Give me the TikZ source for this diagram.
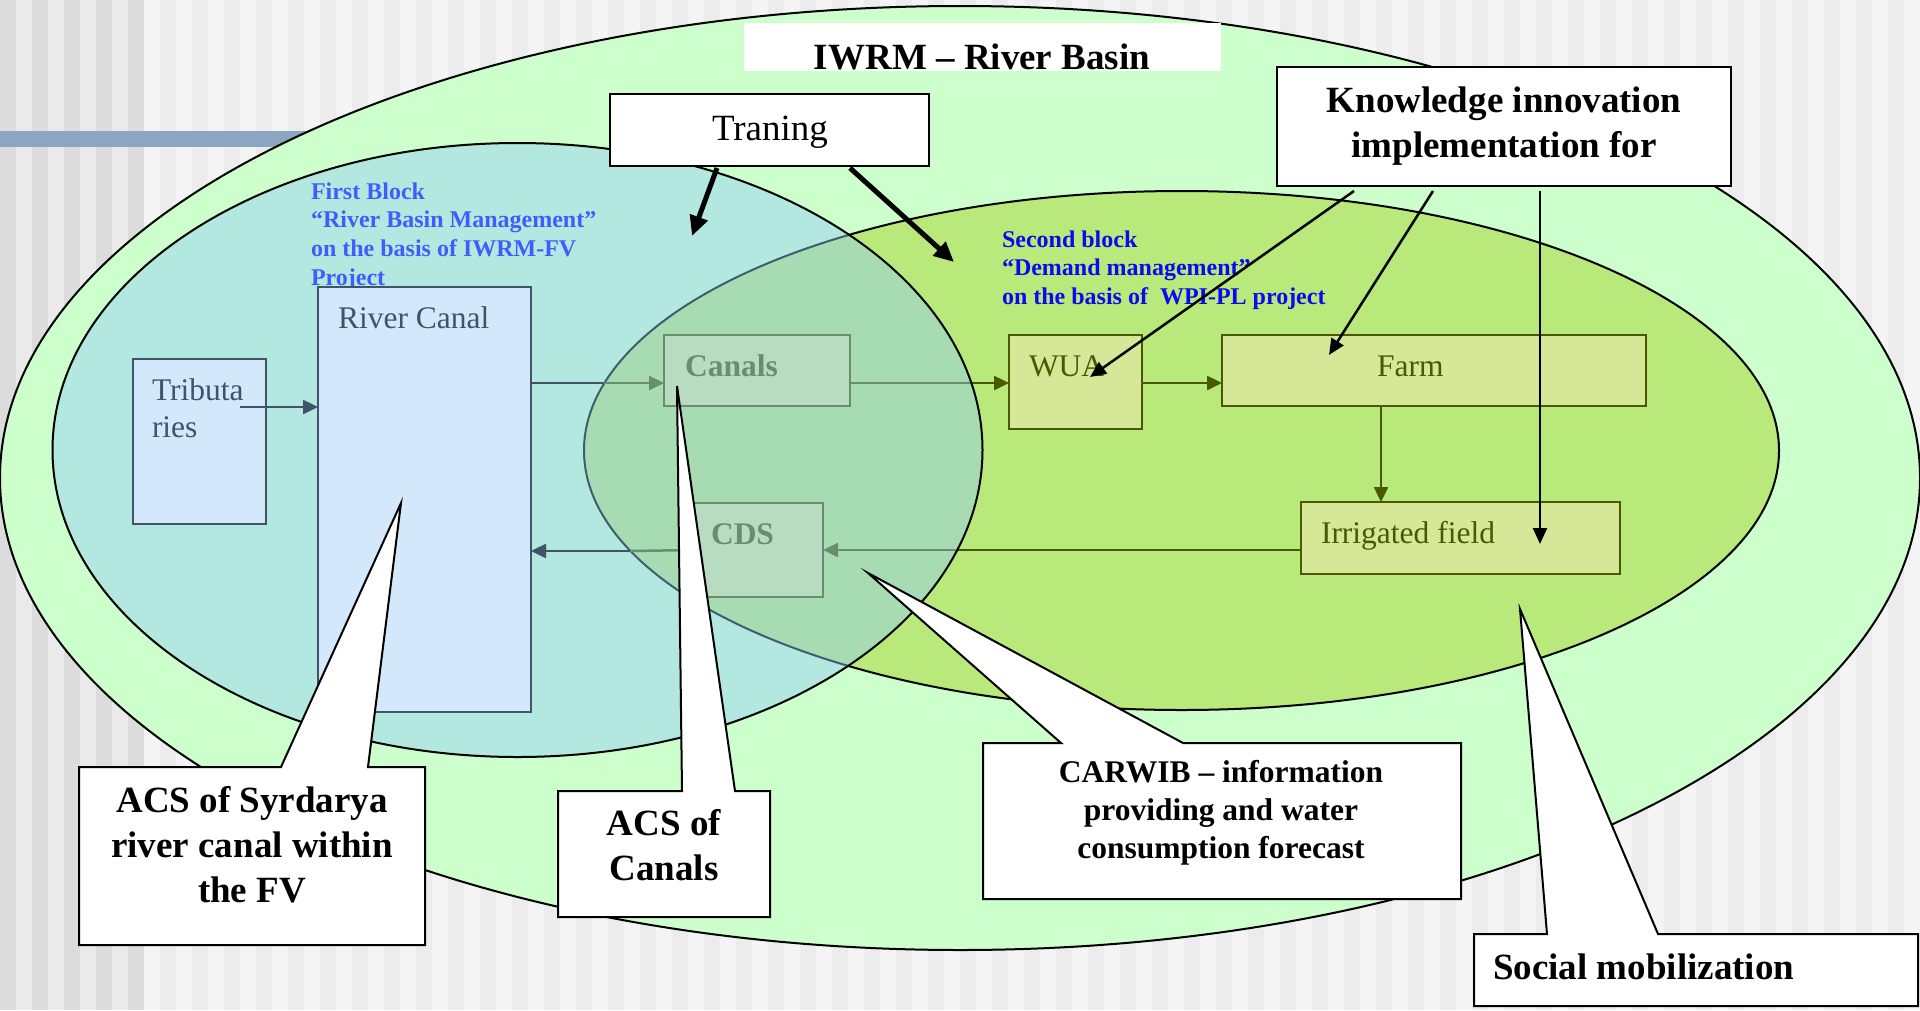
\documentclass[tikz,border=0pt]{standalone}
\usepackage{fontspec}
\setmainfont{Liberation Serif}
\usetikzlibrary{arrows.meta}

\definecolor{stripeA}{HTML}{DCDCDC}
\definecolor{stripeB}{HTML}{EAEAEA}
\definecolor{stripeC}{HTML}{F4F4F4}
\definecolor{stripeD}{HTML}{ECECEC}
\definecolor{barblue}{HTML}{8AA6C1}
\definecolor{basin}{HTML}{CCFFCC}
\definecolor{demand}{HTML}{B8E97A}
\definecolor{firstblk}{HTML}{94CEF8}
\definecolor{slate}{HTML}{405368}
\definecolor{riverfill}{HTML}{D4E8FC}
\definecolor{flowolive}{HTML}{4A5800}
\definecolor{farmfill}{HTML}{D6E897}
\definecolor{blocktwo}{HTML}{0A0AF0}

\begin{document}
\begin{tikzpicture}[x=1pt,y=-1pt,
  every node/.style={inner sep=0pt,outer sep=0pt},
  riverbox/.style={draw=slate,fill=riverfill,line width=2pt},
  farmbox/.style={draw=flowolive,fill=farmfill,line width=2pt},
  plainbox/.style={draw=black,fill=white,line width=2.2pt},
  gflow/.style={draw=flowolive,line width=2.5pt,-{Triangle[length=15pt,width=14pt]}},
  gline/.style={draw=flowolive,line width=2.5pt},
  sflow/.style={draw=slate,line width=2.5pt,-{Triangle[length=15pt,width=14pt]}},
  sline/.style={draw=slate,line width=2.5pt},
  kflow/.style={draw=black,line width=2.5pt,-{Triangle[length=16pt,width=14pt]}},
  tflow/.style={draw=black,line width=5pt,-{Triangle[length=20pt,width=18pt]}},
  callout/.style={draw=black,fill=white,line width=2pt},
  boxtext/.style={font=\fontsize{31.5}{37}\selectfont},
  boldbox/.style={font=\fontsize{31.5}{37}\selectfont\bfseries},
  blocktext/.style={font=\fontsize{24}{28.7}\selectfont\bfseries},
  bigbold/.style={font=\fontsize{37}{45}\selectfont\bfseries},
  midbold/.style={font=\fontsize{31.5}{38}\selectfont\bfseries}
]
\useasboundingbox (0,0) rectangle (1920,1010);

% striped backdrop
\fill[stripeA] (0,0) rectangle (144,1010);
\foreach \x in {16,48,80,112} \fill[stripeB] (\x,0) rectangle ++(16,1010);
\fill[stripeD] (144,0) rectangle (1920,1010);
\foreach \x in {144,176,...,1904} \fill[stripeC] (\x,0) rectangle ++(16,1010);
\fill[barblue] (0,131) rectangle (330,147);

% river basin and demand-management areas
\draw[line width=2pt,fill=basin] (960,478) ellipse [x radius=960pt,y radius=472pt];
\draw[line width=2pt,fill=demand] (1181.5,450.5) ellipse [x radius=597.5pt,y radius=259.5pt];

% first block caption
\node[blocktext,text=blue,anchor=base west] (firsttxt) at (311,199)
  {\begin{tabular}[t]{@{}l@{}}First Block\\“River Basin Management”\\on the basis of IWRM-FV\\Project\end{tabular}};

% demand-side chain
\coordinate (flowA) at (0,383);
\coordinate (fi) at (1381,0);
\coordinate (joinA) at (604,383);
\coordinate (joinB) at (630,551);
\node[farmbox,minimum width=186,minimum height=71] (canals) at (757,370.5) {};
\node[farmbox,minimum width=129,minimum height=94] (cds) at (758.5,550) {};
\node[farmbox,minimum width=133,minimum height=94] (wua) at (1075.5,382) {};
\node[farmbox,minimum width=424,minimum height=71] (farm) at (1434,370.5) {};
\node[farmbox,minimum width=319,minimum height=72] (irr) at (1460.5,538) {};

\node[boldbox,text=flowolive,anchor=base west] (canalstxt) at (685,376) {Canals};
\node[boldbox,text=flowolive,anchor=base west] (cdstxt) at (711,544) {CDS};
\node[boxtext,text=flowolive,anchor=base west] (wuatxt) at (1029,376) {WUA};
\node[boxtext,text=flowolive,anchor=base west] (farmtxt) at (1377,376) {Farm};
\node[boxtext,text=flowolive,anchor=base west] (irrtxt) at (1321,543) {Irrigated field};

\draw[gflow] (joinA) -- (canals.west |- flowA);
\draw[gflow] (canals.east |- flowA) -- (wua.west |- flowA);
\draw[gflow] (wua.east |- flowA) -- (farm.west |- flowA);
\draw[gflow] (farm.south -| fi) -- (irr.north -| fi);
\draw[gflow] (irr.west |- cds.east) -- (cds.east);
\draw[gline] (cds.west) -- (joinB);

% first block area laid over the chain
\draw[line width=2pt,fill=firstblk,fill opacity=0.45] (517.5,450) ellipse [x radius=465pt,y radius=307pt];

% river canal side
\coordinate (tribstart) at (240,407);
\node[riverbox,minimum width=213,minimum height=425] (rc) at (424.5,499.5) {};
\node[riverbox,minimum width=133,minimum height=165] (trib) at (199.5,441.5) {};
\node[boxtext,text=slate,anchor=base west] (rctxt) at (338,328) {River Canal};
\node[boxtext,text=slate,anchor=base west] (tribtxt) at (152,400)
  {\begin{tabular}[t]{@{}l@{}}Tributa\\ries\end{tabular}};
\draw[sflow] (tribstart) -- (rc.west |- tribstart);
\draw[sline] (rc.east |- flowA) -- (joinA);
\draw[sflow] (joinB) -- (rc.east |- joinB);

% second block caption
\node[blocktext,text=blocktwo,anchor=base west] (secondtxt) at (1002,247)
  {\begin{tabular}[t]{@{}l@{}}Second block\\“Demand management”\\on the basis of~ WPI-PL project\end{tabular}};

% title
\node[fill=white,minimum width=477,minimum height=48] (titlebox) at (982.5,47) {};
\node[bigbold,anchor=base] (titletxt) at (982,69) {IWRM – River Basin};

% training
\node[plainbox,minimum width=319,minimum height=72] (train) at (769.5,130) {};
\node[font=\fontsize{37}{45}\selectfont,anchor=base] (traintxt) at (770,140) {Traning};
\coordinate (tr1) at (717,168);
\coordinate (tr2) at (850,168);
\coordinate (trtip1) at (692,236);
\coordinate (trtip2) at (954,262);
\draw[tflow] (tr1) -- (trtip1);
\draw[tflow] (tr2) -- (trtip2);

% knowledge innovation
\node[plainbox,line width=2pt,minimum width=454,minimum height=119] (know) at (1504,126.5) {};
\node[bigbold,anchor=base] (knowtxt) at (1504,112)
  {\begin{tabular}[t]{@{}c@{}}Knowledge innovation\\implementation for\end{tabular}};
\coordinate (k1) at (1354,191);
\coordinate (k2) at (1433,191);
\coordinate (k3) at (1540,191);
\coordinate (kt1) at (1090,377);
\coordinate (kt2) at (1329,355);
\coordinate (kt3) at (1540,544);
\draw[kflow] (k1) -- (kt1);
\draw[kflow] (k2) -- (kt2);
\draw[kflow] (k3) -- (kt3);

% callouts
\draw[callout] (79,767) -- (281,767) -- (401,503) -- (368,767) -- (425,767)
  -- (425,945) -- (79,945) -- cycle;
\node[bigbold,anchor=base] (acs1) at (252,812)
  {\begin{tabular}[t]{@{}c@{}}ACS of Syrdarya\\river canal within\\the FV\end{tabular}};

\draw[callout] (558,791) -- (682,791) -- (677,386) -- (735,791) -- (770,791)
  -- (770,917) -- (558,917) -- cycle;
\node[bigbold,anchor=base] (acs2) at (664,835)
  {\begin{tabular}[t]{@{}c@{}}ACS of\\Canals\end{tabular}};

\draw[callout] (983,743) -- (1061,743) -- (868,573) -- (1183,743) -- (1461,743)
  -- (1461,899) -- (983,899) -- cycle;
\node[midbold,anchor=base] (carwib) at (1221,782)
  {\begin{tabular}[t]{@{}c@{}}CARWIB – information\\providing and water\\consumption forecast\end{tabular}};

\draw[callout] (1474,934) -- (1547,934) -- (1520,609) -- (1658,934) -- (1918,934)
  -- (1918,1006) -- (1474,1006) -- cycle;
\node[bigbold,anchor=base west] (social) at (1493,979) {Social mobilization};
\end{tikzpicture}
\end{document}
